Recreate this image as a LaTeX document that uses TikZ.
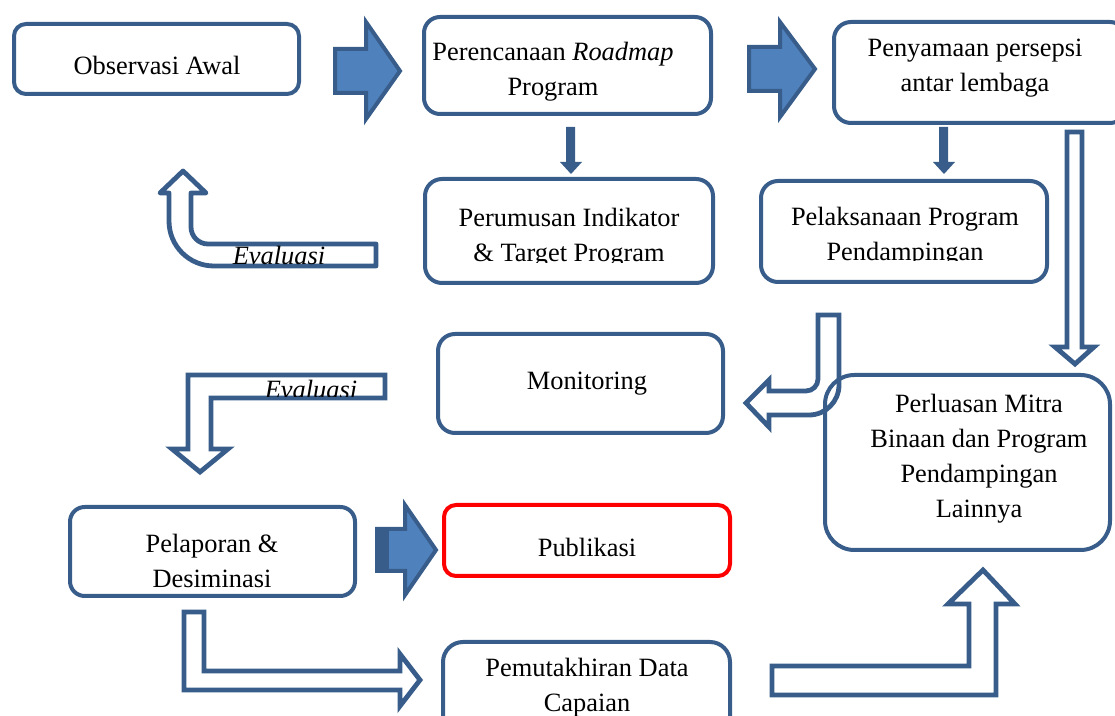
\documentclass[tikz,border=0pt]{standalone}
\usepackage{fontspec}
\setmainfont{Liberation Serif}
\definecolor{bord}{HTML}{385D8A}
\definecolor{fillb}{HTML}{4F81BD}
\def\pxu{0.75pt}

\begin{document}
\begin{tikzpicture}[x=0.75pt, y=-0.75pt,
    stage/.style={draw=bord, line width=3pt, rounded corners=#1},
    stage/.default=9pt,
    lbl/.style={font=\fontsize{19.8}{26.25}\selectfont, align=center, inner sep=0pt},
    blockarrow/.style={draw=bord, fill=fillb, line width=3pt, line join=miter},
    hollow/.style={draw=bord, fill=white, line width=3.6pt, line join=miter}]
    % Page area (pixel units, y pointing down)
    \useasboundingbox (0,0) rectangle (1115,716);

    % Hollow arrows (drawn first, boxes lie on top)
    % Evaluasi: bent arrow up to Observasi Awal
    \draw[hollow, line join=round] (183,171) -- (206,193) -- (191,193) -- (191,227)
        .. controls (191,236.4) and (198.6,244) .. (208,244) -- (376,244) -- (376,266)
        -- (214,266) .. controls (189,266) and (169,246) .. (169,221) -- (169,193) -- (160,193) -- cycle;
    % Evaluasi: bent arrow down to Pelaporan
    \draw[hollow] (385,375) -- (385,398) -- (211,398) -- (211,449) -- (228,449) -- (200,472)
        -- (172,449) -- (188,449) -- (188,375) -- cycle;
    % Pelaksanaan down and left to Monitoring
    \draw[hollow] (818,315) -- (839,315) -- (839,385) .. controls (839,401.6) and (825.6,415) .. (809,415)
        -- (769,415) -- (769,427) -- (746,403) -- (769,380) -- (769,391) -- (806,391)
        .. controls (812.6,391) and (818,385.6) .. (818,379) -- cycle;
    % Penyamaan persepsi down to Perluasan
    \draw[hollow] (1067,132) -- (1082,132) -- (1082,347) -- (1094,347) -- (1075,364)
        -- (1055,347) -- (1067,347) -- cycle;
    % Pelaporan down and right to Pemutakhiran
    \draw[hollow] (184,612) -- (204,612) -- (204,671) -- (400,671) -- (400,654) -- (420,680)
        -- (400,706) -- (400,690) -- (184,690) -- cycle;
    % Pemutakhiran right and up to Perluasan
    \draw[hollow] (772,666) -- (969,666) -- (969,604) -- (948,604) -- (983,570) -- (1015,604)
        -- (996,604) -- (996,695) -- (772,695) -- cycle;

    % Stages
    \node[stage, minimum width=285*\pxu, minimum height=70*\pxu] (obs) at (156.5,59) {};
    \node[stage=12pt, minimum width=287*\pxu, minimum height=97*\pxu] (plan) at (567.5,65.5) {};
    \node[stage=12.75pt, minimum width=293*\pxu, minimum height=101*\pxu] (persp) at (980.5,72.5) {};
    \node[stage=12.75pt, minimum width=288*\pxu, minimum height=104*\pxu] (indik) at (569,231) {};
    \node[stage=12.75pt, minimum width=286*\pxu, minimum height=101*\pxu] (laks) at (904,231.5) {};
    \node[stage=12.75pt, minimum width=285*\pxu, minimum height=99*\pxu] (moni) at (580.5,383.5) {};
    \node[stage=22pt, minimum width=285*\pxu, minimum height=175*\pxu] (luas) at (967.5,462.5) {};
    \node[stage=11pt, minimum width=285*\pxu, minimum height=89*\pxu] (lapor) at (212.5,551.5) {};
    \node[stage, draw=red, minimum width=286*\pxu, minimum height=71*\pxu] (publ) at (587,540.5) {};
    \node[stage=15pt, minimum width=287*\pxu, minimum height=118*\pxu] (mutak) at (586.5,701) {};

    % Filled block arrows
    \draw[blockarrow] (335,49) -- (366,49) -- (366,22) -- (400,71) -- (366,119) -- (366,93) -- (335,93) -- cycle;
    \draw[blockarrow] (749,47) -- (780,47) -- (780,22) -- (815,69) -- (780,117) -- (780,91) -- (749,91) -- cycle;
    \draw[blockarrow] (377,529) -- (405,529) -- (405,505) -- (436,550) -- (405,595) -- (405,571) -- (377,571) -- cycle;
    \fill[bord] (377,529) rectangle (389,571);

    % Small down arrows
    \foreach \xa in {571,944}
        \fill[bord] (\xa-5,127) -- (\xa+4,127) -- (\xa+4,162) -- (\xa+11,162) -- (\xa,174)
            -- (\xa-11,162) -- (\xa-5,162) -- cycle;

    % Texts
    \node[lbl] (obs-t) at (157,65) {Observasi Awal};
    \node[lbl] (plan-t) at (553,72) {Perencanaan \textit{Roadmap}\\Program};
    \node[lbl] (persp-t) at (975,68) {Penyamaan persepsi\\antar lembaga};
    \begin{scope}
        \clip (400,150) rectangle (740,263);
        \node[lbl] (indik-t) at (569,238) {Perumusan Indikator\\\& Target Program};
    \end{scope}
    \begin{scope}
        \clip (760,150) rectangle (1045,261);
        \node[lbl] (laks-t) at (905,237) {Pelaksanaan Program\\Pendampingan};
    \end{scope}
    \node[lbl] (moni-t) at (587,384) {Monitoring};
    \node[lbl] (luas-t) at (979,459) {Perluasan Mitra\\Binaan dan Program\\Pendampingan\\Lainnya};
    \node[lbl] (lapor-t) at (212,561) {Pelaporan \&\\Desiminasi};
    \node[lbl] (publ-t) at (587,547) {Publikasi};
    \node[lbl] (mutak-t) at (587,688) {Pemutakhiran Data\\Capaian};
    \begin{scope}
        \clip (220,230) rectangle (374,266);
        \node[lbl, font=\fontsize{19.8}{26.25}\selectfont\itshape] (eval1) at (279,255) {Evaluasi};
    \end{scope}
    \begin{scope}
        \clip (250,360) rectangle (383,397);
        \node[lbl, font=\fontsize{19.8}{26.25}\selectfont\itshape] (eval2) at (311,389) {Evaluasi};
    \end{scope}
\end{tikzpicture}
\end{document}
